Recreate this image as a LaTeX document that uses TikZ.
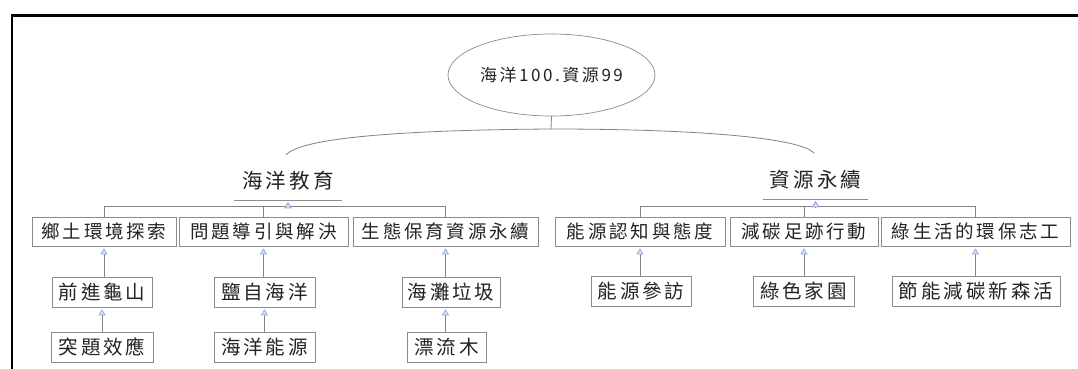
\documentclass[tikz,border=0pt]{standalone}
\usepackage{fontspec}
\newfontfamily\cjk[LetterSpace=15]{Noto Sans CJK TC}
\usetikzlibrary{arrows.meta,shapes.geometric}
\definecolor{linegray}{RGB}{130,130,130}
\definecolor{boxgray}{RGB}{140,140,140}
\definecolor{txt}{RGB}{35,35,35}
\definecolor{arrowblue}{RGB}{140,170,220}
\tikzset{
  rootst/.style={ellipse, draw=boxgray, line width=0.7pt, minimum width=207, minimum height=82, inner sep=0, font=\cjk\fontsize{17}{17}\selectfont, text=txt},
  lvone/.style={rectangle, minimum height=38, inner sep=0, font=\cjk\fontsize{20.5}{20.5}\selectfont, text=txt},
  uline/.style={draw=boxgray, line width=0.7pt},
  lvtwo/.style={rectangle, draw=boxgray, line width=0.7pt, minimum height=29, inner sep=0, font=\cjk\fontsize{18.5}{18.5}\selectfont, text=txt},
  lvthree/.style={rectangle, draw=boxgray, line width=0.7pt, minimum height=30, inner sep=0, font=\cjk\fontsize{19.5}{19.5}\selectfont, text=txt},
  brace/.style={draw=linegray, line width=0.8pt},
  conn/.style={draw=linegray, line width=0.7pt, shorten >=2pt, -{Triangle[length=6pt,width=7pt,color=arrowblue,fill=arrowblue!35]}},
  frameline/.style={draw=black, line width=2.5pt, line join=miter}
}
\begin{document}
\begin{tikzpicture}[x=1pt,y=-1pt]
\useasboundingbox (0,0) rectangle (1078,369);
\fill[white] (0,0) rectangle (1078,369);
\draw[frameline] (1080,15.5) -- (12,15.5) -- (12,371);

% root
\node[rootst] (root) at (551.5,75) {海洋100.資源99};
\coordinate (junc) at (551,129);
\coordinate (eduTop) at (286,155);
\coordinate (resTop) at (814,153);
\draw[brace] (root.south) -- (junc);
\draw[brace] (junc) .. controls (400,130) and (300,138) .. (eduTop);
\draw[brace] (junc) .. controls (700,129) and (800,138) .. (resTop);

% level one
\node[lvone, minimum width=107] (edu) at (288,181) {海洋教育};
\node[lvone, minimum width=105] (res) at (815.5,180) {資源永續};
\draw[uline] (edu.south west) -- (edu.south east);
\draw[uline] (res.south west) -- (res.south east);

% level two
\node[lvtwo, minimum width=144] (b1) at (104,231.5) {鄉土環境探索};
\node[lvtwo, minimum width=169] (b2) at (263.5,231.5) {問題導引與解決};
\node[lvtwo, minimum width=185] (b3) at (445.5,231.5) {生態保育資源永續};
\node[lvtwo, minimum width=170] (b4) at (640,231.5) {能源認知與態度};
\node[lvtwo, minimum width=148] (b5) at (804,231.5) {減碳足跡行動};
\node[lvtwo, minimum width=189] (b6) at (975.5,231.5) {綠生活的環保志工};

% level three
\node[lvthree, minimum width=100] (c1) at (102,292) {前進龜山};
\node[lvthree, minimum width=102] (d1) at (102,347) {突題效應};
\node[lvthree, minimum width=101] (c2) at (264.5,292) {鹽自海洋};
\node[lvthree, minimum width=101] (d2) at (264.5,347) {海洋能源};
\node[lvthree, minimum width=98] (c3) at (451,292) {海灘垃圾};
\node[lvthree, minimum width=79] (d3) at (446.5,347) {漂流木};
\node[lvthree, minimum width=100] (c4) at (641,291) {能源參訪};
\node[lvthree, minimum width=101] (c5) at (803.5,291) {綠色家園};
\node[lvthree, minimum width=168] (c6) at (976,291) {節能減碳新森活};

% buses level one -> two
\foreach \b in {b1,b2,b3}{
  \draw[conn] (\b.north) -- ++(0,-10) -| (edu.south);
}
\foreach \b in {b4,b5,b6}{
  \draw[conn] (\b.north) -- ++(0,-10) -| (res.south);
}

% level two -> three
\draw[conn] (b1.south |- c1.north) -- (b1.south);
\draw[conn] (b2.south |- c2.north) -- (b2.south);
\draw[conn] (b3.south |- c3.north) -- (b3.south);
\draw[conn] (b4.south |- c4.north) -- (b4.south);
\draw[conn] (b5.south |- c5.north) -- (b5.south);
\draw[conn] (b6.south |- c6.north) -- (b6.south);

% level three -> four
\draw[conn] (c1.south |- d1.north) -- (c1.south);
\draw[conn] (c2.south |- d2.north) -- (c2.south);
\draw[conn] (b3.south |- d3.north) -- (b3.south |- c3.south);
\end{tikzpicture}
\end{document}
